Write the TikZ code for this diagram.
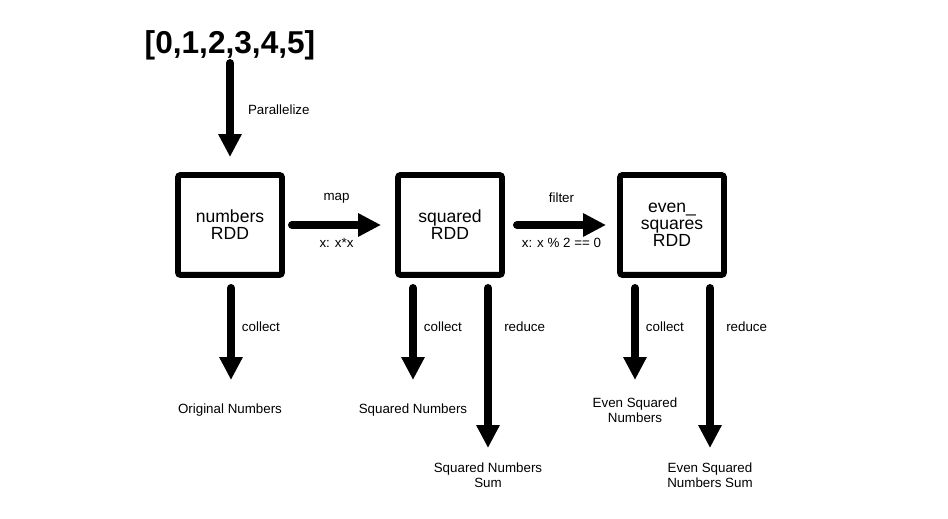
\documentclass[tikz,border=0pt]{standalone}
\usepackage{fontspec}
\setmainfont{Liberation Sans}
\usetikzlibrary{arrows.meta,calc}
\begin{document}
\begin{tikzpicture}[x=0.02cm,y=-0.02cm,
 rdd/.style={draw, line width=3.4pt, rounded corners=1.5pt, minimum width=2.08cm, minimum height=2.0cm, align=center, font=\fontsize{10}{9.8}\selectfont, inner sep=0pt},
 lbl/.style={font=\fontsize{7.6}{8.4}\selectfont, align=center, inner sep=0pt},
 arr/.style={line width=4.5pt, line cap=round, -{Triangle[width=12.5pt,length=13pt]}},
]
\useasboundingbox[fill=white] (0,0) rectangle (948,519);

\node[font=\fontsize{18}{20}\selectfont\bfseries, inner sep=0pt] (list) at (230,45) {[0,1,2,3,4,5]};

\node[rdd] (numbers) at (230,225) {numbers\\RDD};
\node[rdd] (squared) at (450,225) {squared\\RDD};
\node[rdd] (even) at (672,225) {even\_\\squares\\RDD};

\node[lbl] (orig) at (230,410) {Original Numbers};
\node[lbl] (sqn) at (413,410) {Squared Numbers};
\node[lbl] (sqsum) at (488,475) {Squared Numbers\\Sum};
\node[lbl] (evn) at (635,410) {Even Squared\\Numbers};
\node[lbl] (evsum) at (710,475) {Even Squared\\Numbers Sum};

\draw[arr] ($(list.center)+(0,18)$) -- ($(numbers.north)+(0,-15)$)
  node[lbl, pos=0.5, anchor=west, xshift=8pt] {Parallelize};

\draw[arr] ($(numbers.east)+(7,0)$) -- ($(squared.west)+(-14,0)$)
  node[lbl, midway, yshift=15.3pt] {map}
  node[lbl, midway, yshift=-10.2pt] {x: x*x};
\draw[arr] ($(squared.east)+(12,0)$) -- ($(even.west)+(-11,0)$)
  node[lbl, midway, yshift=15.3pt] {filter}
  node[lbl, midway, yshift=-10.2pt] {x: x \% 2 == 0};

\draw[arr] ($(numbers.south)+(1,10)$) -- ($(orig)+(1,-30)$)
  node[lbl, pos=0.42, anchor=west, xshift=4pt] {collect};
\draw[arr] ($(sqn)+(0,-122)$) -- ($(sqn)+(0,-30)$)
  node[lbl, pos=0.42, anchor=west, xshift=4pt] {collect};
\draw[arr] ($(sqsum)+(0,-187)$) -- ($(sqsum)+(0,-27)$)
  node[lbl, pos=0.245, anchor=west, xshift=7pt] {reduce};
\draw[arr] ($(evn)+(0,-122)$) -- ($(evn)+(0,-30)$)
  node[lbl, pos=0.42, anchor=west, xshift=4pt] {collect};
\draw[arr] ($(evsum)+(0,-187)$) -- ($(evsum)+(0,-27)$)
  node[lbl, pos=0.245, anchor=west, xshift=7pt] {reduce};
\end{tikzpicture}
\end{document}
